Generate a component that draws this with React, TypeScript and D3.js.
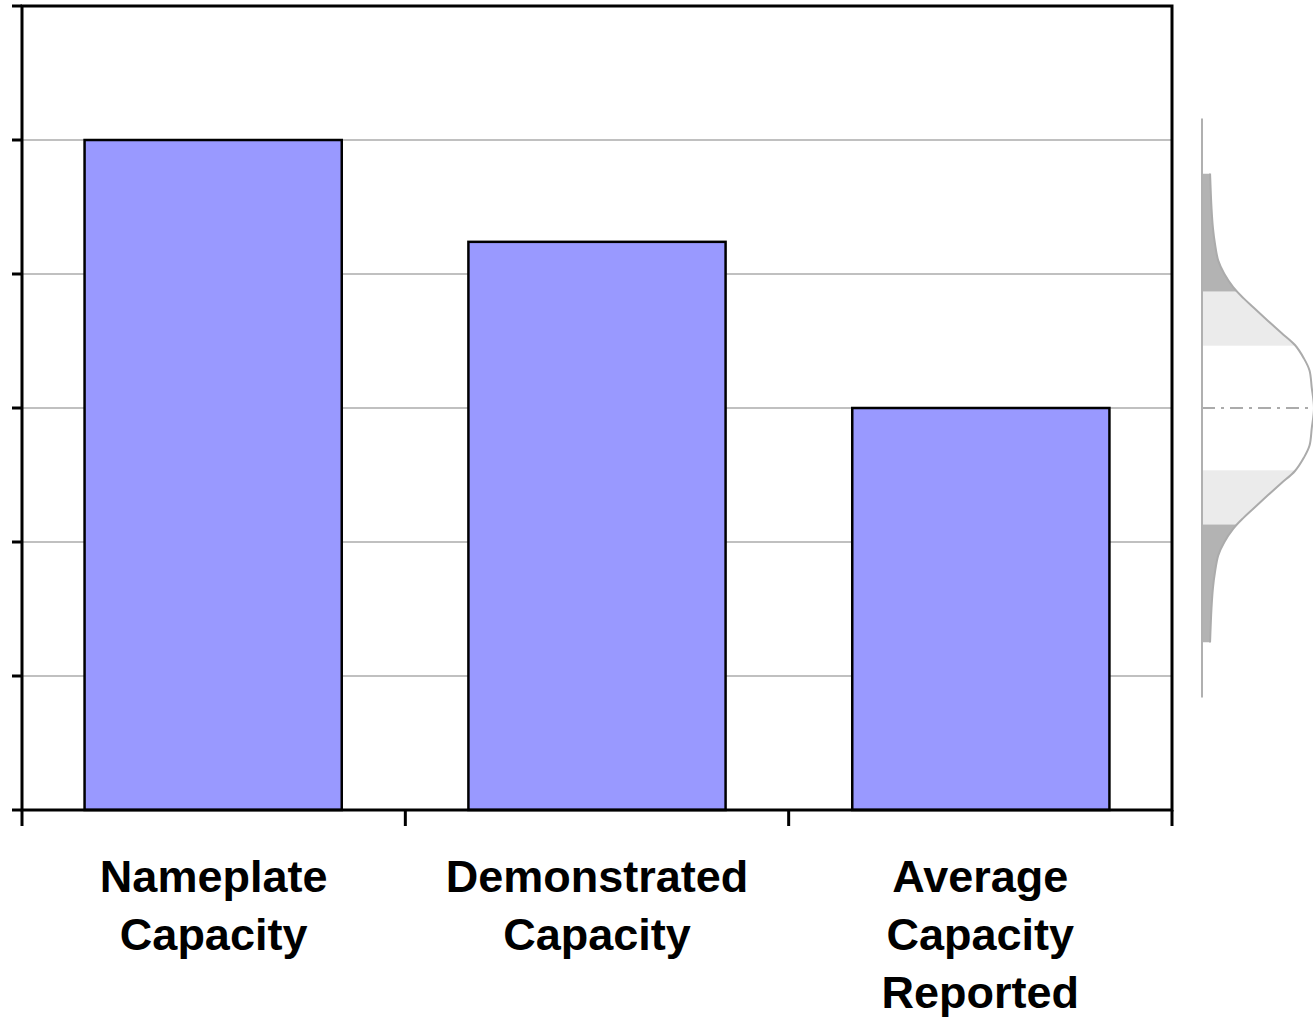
import React from "react";
import * as d3 from "d3";

const categories: string[][] = [
  ["Nameplate", "Capacity"],
  ["Demonstrated", "Capacity"],
  ["Average", "Capacity", "Reported"],
];
const values: number[] = [5.0, 4.24, 3.0];
const yTicks: number[] = [0, 1, 2, 3, 4, 5, 6];

// decorative distribution profile (offset from mean in value units, relative density)
const distMean = 3.0;
const distOffsets: number[] = [0, 0.15, 0.28, 0.37, 0.47, 0.56, 0.65, 0.75, 0.82, 0.9, 1.0, 1.1, 1.23, 1.34, 1.49, 1.75];
const distDensity: number[] = [1.0, 0.98, 0.96, 0.91, 0.83, 0.71, 0.59, 0.46, 0.37, 0.28, 0.2, 0.145, 0.115, 0.098, 0.085, 0.072];
const innerBand = 0.465;
const outerBand = 0.87;
const distAxisHalf = 2.16;

const W = 1313;
const H = 1019;
const left = 22, right = 1172, top = 6, bottom = 810;

export default function App() {
  const x = d3.scaleBand<number>().domain(d3.range(categories.length)).range([left, right]).paddingInner(0.33).paddingOuter(0.163);
  const xb = d3.scaleBand<number>().domain(d3.range(categories.length)).range([left, right]);
  const y = d3.scaleLinear().domain([0, 6]).range([bottom, top]);

  const axisX = 1202;
  const dens = d3.scaleLinear().domain([0, 1]).range([axisX, axisX + 112]);

  const prof: { off: number; d: number }[] = [];
  for (let i = distOffsets.length - 1; i > 0; i--) prof.push({ off: -distOffsets[i], d: distDensity[i] });
  for (let i = 0; i < distOffsets.length; i++) prof.push({ off: distOffsets[i], d: distDensity[i] });

  const area = d3.area<{ off: number; d: number }>()
    .y((p) => y(distMean + p.off))
    .x0(axisX)
    .x1((p) => dens(p.d))
    .curve(d3.curveCatmullRom);
  const line = d3.line<{ off: number; d: number }>()
    .y((p) => y(distMean + p.off))
    .x((p) => dens(p.d))
    .curve(d3.curveCatmullRom);

  const areaPath = area(prof) || "";
  const linePath = line(prof) || "";

  const boundaries = [0, 1, 2, 3].map((i) => (i < 3 ? xb(i)! : right));
  const tail = distOffsets[distOffsets.length - 1];

  return (
    <svg width={W} height={H} style={{ position: "absolute", left: 0, top: 0, display: "block", background: "#fff" }}>
      <defs>
        <clipPath id="distClip">
          <path d={areaPath} />
        </clipPath>
      </defs>
      {/* gridlines */}
      {yTicks.filter((t) => t > 0 && t < 6).map((t) => (
        <line key={t} x1={left} x2={right} y1={y(t)} y2={y(t)} stroke="#c0c0c0" strokeWidth={2} />
      ))}
      {/* bars */}
      {values.map((v, i) => (
        <rect key={i} x={x(i)!} y={y(v)} width={x.bandwidth()} height={y(0) - y(v)} fill="#9999ff" stroke="#000" strokeWidth={2.5} />
      ))}
      {/* frame */}
      <rect x={left} y={top} width={right - left} height={bottom - top} fill="none" stroke="#000" strokeWidth={3} />
      {/* y ticks */}
      {yTicks.map((t) => (
        <line key={t} x1={left - 10} x2={left} y1={y(t)} y2={y(t)} stroke="#000" strokeWidth={3} />
      ))}
      {/* x ticks */}
      {boundaries.map((b, i) => (
        <line key={i} x1={b} x2={b} y1={bottom} y2={bottom + 16} stroke="#000" strokeWidth={3} />
      ))}
      {/* labels */}
      {categories.map((lines, i) => (
        <text key={i} x={xb(i)! + xb.bandwidth() / 2} textAnchor="middle" fontFamily="'Liberation Sans', Arial, sans-serif" fontWeight="bold" fontSize={45} fill="#000">
          {lines.map((l, j) => (
            <tspan key={j} x={xb(i)! + xb.bandwidth() / 2} y={892 + j * 58}>{l}</tspan>
          ))}
        </text>
      ))}
      {/* distribution decoration */}
      <g clipPath="url(#distClip)">
        <rect x={axisX} y={y(distMean + tail)} width={120} height={y(distMean - tail) - y(distMean + tail)} fill="#b3b3b3" />
        <rect x={axisX} y={y(distMean + outerBand)} width={120} height={y(distMean - outerBand) - y(distMean + outerBand)} fill="#ebebeb" />
        <rect x={axisX} y={y(distMean + innerBand)} width={120} height={y(distMean - innerBand) - y(distMean + innerBand)} fill="#fff" />
      </g>
      <path d={linePath} fill="none" stroke="#ababab" strokeWidth={2} />
      <line x1={axisX} x2={W} y1={y(distMean)} y2={y(distMean)} stroke="#ababab" strokeWidth={2} strokeDasharray="13,6,3,6" />
      <line x1={axisX} x2={axisX} y1={y(distMean + distAxisHalf)} y2={y(distMean - distAxisHalf)} stroke="#b0b0b0" strokeWidth={2} />
    </svg>
  );
}
